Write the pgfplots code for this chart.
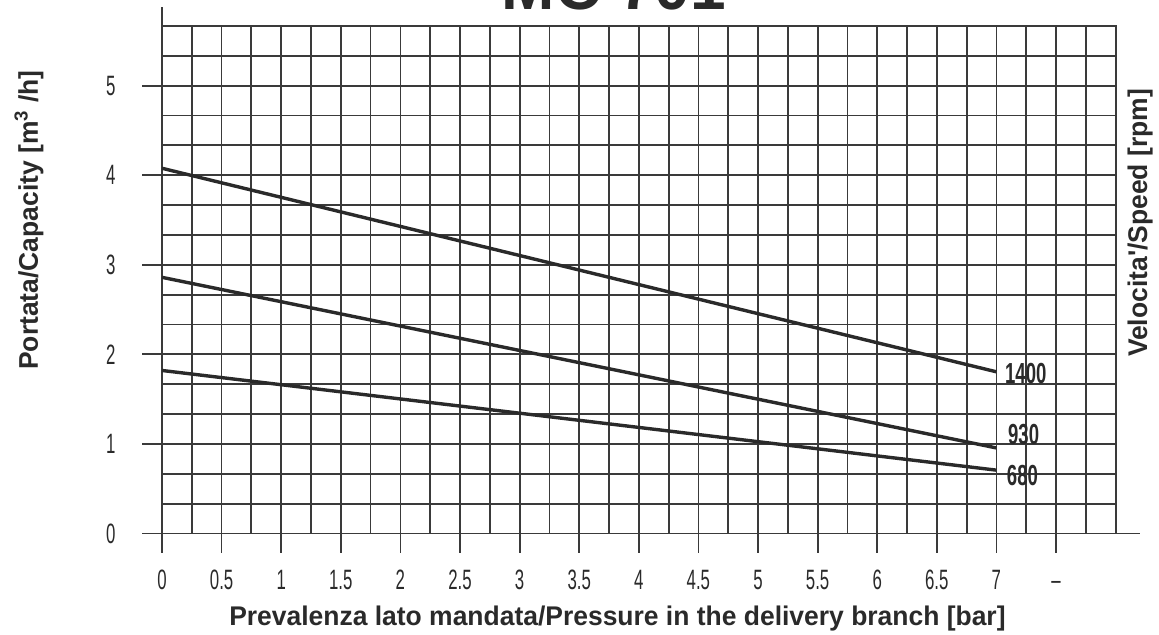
\documentclass[border=0pt]{standalone}
\usepackage{pgfplots}
\pgfplotsset{compat=1.18}
\usepackage{fontspec}
\setmainfont{Liberation Sans}
\newfontfamily\tickfont{Liberation Sans}[FakeStretch=0.6]
\newfontfamily\labfont{Liberation Sans Bold}[FakeStretch=0.98]
\newfontfamily\curvefont{Liberation Sans Bold}[FakeStretch=0.64]
\newfontfamily\titlefont{Liberation Sans Bold}
\definecolor{ink}{HTML}{2a2a2a}
\definecolor{gridc}{HTML}{3a3a3a}
\begin{document}
\begin{tikzpicture}
\begin{axis}[
  scale only axis, width=476.85pt, height=253.75pt,
  xmin=0, xmax=8, ymin=0, ymax=5.66667,
  clip=false,
  axis line style={line width=0.9pt, color=gridc},
  xtick={0,0.5,...,7.5},
  xticklabels={0,0.5,1,1.5,2,2.5,3,3.5,4,4.5,5,5.5,6,6.5,7,{\vphantom{0}–}},
  ytick={0,1,2,3,4,5},
  yticklabels={0,1,2,3,4,5},
  minor xtick={0.25,0.75,...,7.75},
  minor ytick={0.33333,0.66667,1.33333,1.66667,2.33333,2.66667,3.33333,3.66667,4.33333,4.66667,5.33333},
  grid=both,
  major grid style={line width=0.9pt, gridc},
  minor grid style={line width=0.9pt, gridc},
  tick align=outside,
  major tick length=9.75pt,
  minor tick length=0pt,
  xtick pos=left, ytick pos=left,
  tick style={line width=0.9pt, gridc},
  ticklabel style={font=\tickfont\fontsize{14}{14}\selectfont, text=ink},
  xticklabel style={yshift=-5pt},
  yticklabel style={xshift=-10pt},
]
\addplot[line width=1.7pt, ink] coordinates {(0,4.078) (7,1.805)};
\addplot[line width=1.7pt, ink] coordinates {(0,2.86) (7,0.955)};
\addplot[line width=1.7pt, ink] coordinates {(0,1.82) (7,0.707)};

\draw[line width=0.9pt, gridc] (axis cs:0,5.66667) -- (axis cs:0,5.875);
\draw[line width=0.9pt, gridc] (axis cs:8,0) -- (axis cs:8.205,0);

\node[font=\curvefont\fontsize{14.5}{14.5}\selectfont, anchor=west, inner sep=0, text=ink] at (axis cs:7.07,1.781) {1400};
\node[font=\curvefont\fontsize{14.5}{14.5}\selectfont, anchor=west, inner sep=0, text=ink] at (axis cs:7.095,1.10) {930};
\node[font=\curvefont\fontsize{14.5}{14.5}\selectfont, anchor=west, inner sep=0, text=ink] at (axis cs:7.085,0.642) {680};

\node[font=\labfont\fontsize{13.5}{13.5}\selectfont, anchor=base, inner sep=0, text=ink] at (axis cs:3.821,-1.033) {Prevalenza lato mandata/Pressure in the delivery branch [bar]};
\node[font=\labfont\fontsize{13.5}{13.5}\selectfont, rotate=90, anchor=center, inner sep=0, text=ink] at (axis cs:-1.116,3.5) {Portata/Capacity [m\textsuperscript{3} /h]};
\node[font=\labfont\fontsize{13.5}{13.5}\selectfont, rotate=90, anchor=center, inner sep=0, text=ink] at (axis cs:8.205,3.467) {Velocita'/Speed [rpm]};

\node[font=\titlefont\fontsize{32}{32}\selectfont, anchor=base, inner sep=0, text=ink] at (axis cs:3.792,5.856) {MC 701};

\coordinate (bbl) at (axis cs:-1.359,-1.133);
\coordinate (btr) at (axis cs:8.364,5.957);
\end{axis}
\pgfresetboundingbox
\useasboundingbox (bbl) rectangle (btr);
\end{tikzpicture}
\end{document}
